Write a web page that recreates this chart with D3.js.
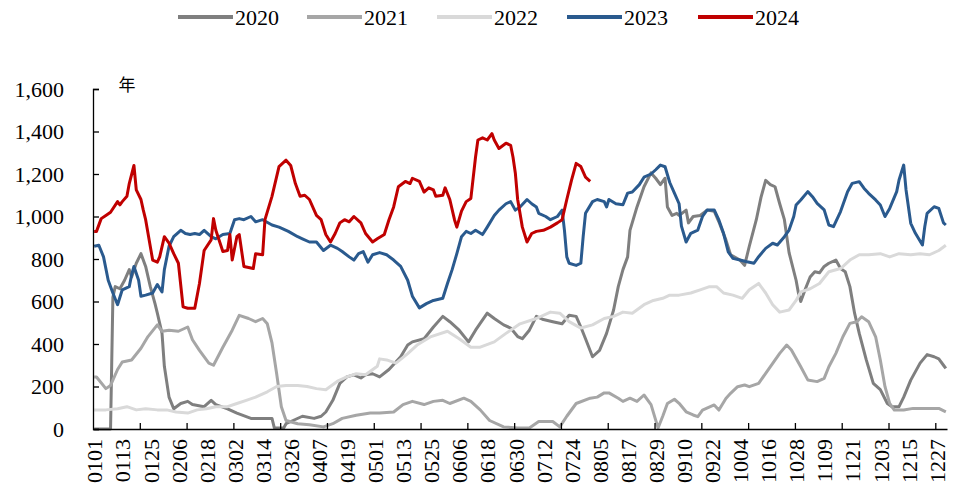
<!DOCTYPE html>
<html><head><meta charset="utf-8">
<script src="https://cdn.jsdelivr.net/npm/d3@7"></script>
<style>body{margin:0;background:#fff}svg{display:block}</style>
</head><body><svg id="c" width="960" height="495"></svg>
<script>
// Day-of-year index (0 = 0101) and value pairs
const tickLabels = ["0101","0113","0125","0206","0218","0302","0314","0326","0407","0419","0501","0513","0525","0606","0618","0630","0712","0724","0805","0817","0829","0910","0922","1004","1016","1028","1109","1121","1203","1215","1227"];
const yTicks = [0,200,400,600,800,1000,1200,1400,1600];
const seriesNames = ["2020","2021","2022","2023","2024"];
const seriesColors = ["#7f7f7f","#a6a6a6","#d9d9d9","#2a5a8e","#c00000"];

const s2020 = [[0,0],[7,0],[8,620],[9,670],[11,660],[13,700],[15,750],[16,715],[18,780],[20,825],[22,765],[24,670],[26,590],[27,545],[29,450],[30,295],[32,150],[34,95],[37,120],[40,130],[42,115],[47,105],[50,135],[52,115],[57,95],[61,75],[67,50],[76,50],[77,5],[81,5],[82,25],[85,40],[89,60],[94,50],[97,60],[99,80],[102,135],[105,215],[108,245],[111,255],[114,240],[116,255],[119,260],[122,245],[126,280],[131,340],[134,395],[136,410],[141,425],[145,480],[149,530],[152,505],[156,465],[160,410],[163,465],[168,545],[171,520],[175,490],[178,475],[181,435],[183,425],[186,465],[189,530],[192,515],[196,505],[200,495],[203,535],[206,530],[208,480],[210,425],[213,340],[216,370],[219,450],[222,560],[224,670],[226,750],[228,810],[229,935],[232,1045],[235,1140],[238,1205],[240,1180],[242,1150],[244,1180],[245,1045],[247,1005],[249,1015],[250,1005],[253,1030],[254,970],[256,1000],[259,1005],[262,1030],[265,1025],[267,975],[270,890],[272,820],[276,795],[278,770],[280,860],[283,985],[285,1090],[287,1170],[289,1150],[291,1140],[293,1060],[295,985],[297,830],[300,700],[301,640],[302,600],[304,660],[306,715],[308,740],[310,735],[312,765],[314,780],[317,795],[319,755],[321,740],[323,670],[325,545],[327,450],[330,325],[333,215],[336,185],[339,120],[341,105],[344,105],[346,150],[349,230],[353,310],[356,350],[359,340],[361,330],[363,300],[364,285]];

const s2021 = [[0,245],[1,245],[5,190],[7,205],[10,280],[12,315],[16,325],[20,380],[23,435],[27,490],[29,460],[32,465],[36,460],[40,480],[42,420],[45,370],[49,310],[51,300],[55,385],[59,465],[62,535],[66,520],[69,505],[72,520],[74,495],[76,405],[78,260],[80,105],[82,40],[87,25],[92,20],[98,10],[102,25],[106,50],[112,65],[118,75],[122,75],[128,80],[132,115],[136,130],[141,115],[145,130],[149,135],[152,120],[158,145],[161,130],[165,90],[169,40],[175,10],[181,5],[186,5],[190,35],[196,35],[199,10],[202,60],[206,120],[212,145],[215,150],[218,170],[220,170],[224,145],[226,130],[229,145],[232,130],[235,160],[238,115],[241,5],[243,60],[245,120],[248,140],[250,121],[253,81],[256,66],[258,58],[260,89],[265,113],[267,89],[270,144],[272,168],[275,199],[278,207],[280,199],[284,215],[287,262],[290,309],[293,356],[296,395],[298,372],[302,293],[305,231],[309,223],[312,238],[314,293],[317,356],[320,434],[323,497],[326,505],[328,528],[331,505],[334,434],[336,325],[338,199],[340,121],[342,89],[346,89],[350,97],[354,97],[359,97],[361,97],[364,81]];

const s2022 = [[0,90],[5,90],[10,95],[14,105],[18,90],[22,95],[27,90],[31,90],[35,80],[40,75],[44,90],[48,95],[52,105],[57,105],[61,120],[65,135],[69,150],[74,175],[78,200],[82,205],[87,205],[91,200],[95,190],[99,185],[104,225],[108,245],[112,260],[116,255],[121,295],[122,330],[125,325],[129,310],[134,355],[138,395],[144,435],[151,460],[156,425],[161,385],[165,385],[171,410],[176,450],[182,495],[189,520],[195,550],[199,545],[203,505],[208,475],[213,490],[218,520],[222,530],[226,550],[230,545],[235,585],[239,605],[243,615],[246,630],[250,630],[255,640],[259,655],[263,670],[266,670],[269,640],[273,630],[277,615],[280,655],[284,685],[287,640],[290,585],[293,550],[297,560],[300,605],[302,645],[306,660],[310,685],[314,740],[319,755],[323,795],[327,820],[331,820],[336,825],[340,810],[344,825],[349,820],[353,825],[357,820],[361,840],[364,865]];

const s2023 = [[0,860],[2,865],[4,810],[6,700],[8,640],[10,585],[12,655],[15,670],[16,725],[17,765],[19,700],[20,625],[22,630],[25,640],[27,680],[29,645],[30,750],[32,860],[34,905],[37,935],[39,920],[41,915],[43,920],[45,915],[47,935],[50,905],[52,895],[55,915],[58,920],[60,985],[62,990],[64,985],[67,1000],[69,975],[72,985],[76,960],[79,950],[83,930],[87,905],[89,895],[92,880],[95,880],[98,840],[101,865],[104,850],[106,835],[109,810],[111,795],[113,825],[115,835],[117,785],[119,820],[122,830],[125,820],[128,795],[131,765],[134,700],[136,625],[139,570],[142,590],[145,605],[149,615],[151,685],[153,750],[155,825],[157,905],[159,930],[161,920],[163,935],[166,915],[168,950],[171,1005],[173,1030],[176,1060],[178,1070],[180,1030],[182,1045],[185,1080],[187,1060],[189,1045],[190,1015],[193,1000],[195,985],[198,1000],[200,1030],[201,935],[202,810],[203,780],[206,770],[208,780],[209,905],[210,1015],[213,1070],[215,1080],[218,1070],[219,1045],[220,1080],[223,1060],[226,1055],[228,1110],[230,1115],[233,1150],[235,1185],[238,1200],[240,1220],[242,1242],[244,1234],[246,1160],[248,1110],[250,1060],[251,955],[253,880],[255,921],[258,936],[260,1000],[262,1031],[265,1031],[267,984],[269,921],[271,834],[273,803],[276,795],[279,787],[282,780],[284,811],[287,850],[290,874],[292,866],[295,905],[297,936],[299,1000],[300,1054],[302,1078],[305,1117],[307,1093],[309,1062],[312,1031],[314,960],[316,952],[319,1023],[322,1117],[324,1156],[327,1164],[329,1133],[331,1109],[334,1078],[336,1054],[338,1000],[340,1038],[343,1117],[344,1172],[346,1242],[347,1125],[349,968],[351,921],[354,866],[355,952],[356,1015],[359,1046],[361,1038],[363,970],[364,960]];

const s2024 = [[0,930],[1,930],[3,990],[5,1005],[7,1020],[10,1070],[11,1055],[12,1070],[14,1095],[15,1155],[17,1240],[18,1125],[20,1080],[21,1030],[22,985],[25,795],[27,785],[28,810],[30,905],[32,875],[34,825],[36,780],[38,575],[40,568],[43,568],[45,685],[47,840],[50,890],[51,990],[52,935],[55,835],[57,840],[58,915],[59,795],[61,905],[62,915],[64,765],[68,755],[69,825],[72,820],[73,985],[76,1095],[79,1235],[82,1265],[84,1240],[86,1155],[88,1095],[90,1100],[92,1080],[95,1005],[97,985],[99,915],[101,880],[103,920],[105,970],[107,985],[109,975],[111,1000],[114,970],[116,920],[119,880],[121,895],[124,915],[126,985],[128,1045],[130,1140],[133,1165],[135,1155],[136,1180],[139,1165],[141,1115],[143,1135],[145,1125],[146,1095],[149,1100],[150,1135],[152,1080],[154,985],[155,950],[157,1025],[159,1070],[161,1085],[163,1280],[164,1360],[166,1370],[168,1360],[170,1390],[171,1360],[173,1320],[176,1345],[178,1335],[179,1280],[180,1205],[181,1080],[183,950],[185,880],[187,920],[189,930],[192,935],[195,950],[198,970],[200,985],[202,1080],[204,1170],[206,1250],[208,1235],[210,1185],[212,1165]];

const allSeries = [s2020, s2021, s2022, s2023, s2024];

const svg = d3.select("#c");
const L = 93, R = 947, T = 89, B = 429;
const nDays = 365;
const x = d3.scaleLinear().domain([-0.5, nDays - 0.5]).range([L, R]);
const y = d3.scaleLinear().domain([0, 1600]).range([B, T]);
const serif = "'Liberation Serif','Times New Roman',serif";

// lines
const line = d3.line().x(d => x(d[0])).y(d => y(d[1]));
allSeries.forEach((s, i) => {
  svg.append("path").datum(s).attr("d", line)
    .attr("fill", "none").attr("stroke", seriesColors[i])
    .attr("stroke-width", 3).attr("stroke-linejoin", "round");
});

// y axis
const gy = svg.append("g").attr("transform", `translate(${L},0)`)
  .call(d3.axisLeft(y).tickValues(yTicks).tickSize(-6).tickPadding(29).tickFormat(d3.format(",")));
gy.select(".domain").attr("stroke", "#000").attr("stroke-width", 1.3);
gy.selectAll(".tick line").attr("stroke", "#000").attr("stroke-width", 1.3);
gy.selectAll("text").attr("font-family", serif).attr("font-size", 22).attr("fill", "#000");

// x axis tick marks (every 20 categories)
const tickMarks = d3.range(20, nDays, 20).map(v => v - 0.5);
const gxt = svg.append("g").attr("transform", `translate(0,${B})`)
  .call(d3.axisBottom(x).tickValues(tickMarks).tickSize(-6).tickFormat("").tickSizeOuter(0));
gxt.select(".domain").attr("stroke", "#000").attr("stroke-width", 1.3);
gxt.selectAll(".tick line").attr("stroke", "#000").attr("stroke-width", 1.3);

// x labels every 12 days
const labelDays = tickLabels.map((t, i) => i * 12);
const gxl = svg.append("g").attr("transform", `translate(0,${B})`)
  .call(d3.axisBottom(x).tickValues(labelDays).tickSize(0).tickFormat((d, i) => tickLabels[i]));
gxl.select(".domain").remove();
gxl.selectAll("text").attr("font-family", serif).attr("font-size", 22).attr("fill", "#000")
  .attr("transform", "rotate(-90)").attr("text-anchor", "end")
  .attr("x", -10).attr("y", 0).attr("dy", "0.35em");

// unit label
svg.append("text").attr("x", 127).attr("y", 86).attr("text-anchor", "middle")
  .attr("dominant-baseline", "middle")
  .attr("font-family", "'Noto Sans CJK SC'").attr("font-size", 17).attr("fill", "#000").text("年");

// legend
const legX = [178, 307, 437, 567, 698];
seriesNames.forEach((n, i) => {
  const g = svg.append("g").attr("transform", `translate(${legX[i]},17)`);
  g.append("line").attr("x1", 0).attr("x2", 55).attr("y1", 0).attr("y2", 0)
    .attr("stroke", seriesColors[i]).attr("stroke-width", 4);
  g.append("text").attr("x", 57).attr("y", 0).attr("dy", "0.35em")
    .attr("font-family", serif).attr("font-size", 22).attr("fill", "#000").text(n);
});
</script></body></html>
